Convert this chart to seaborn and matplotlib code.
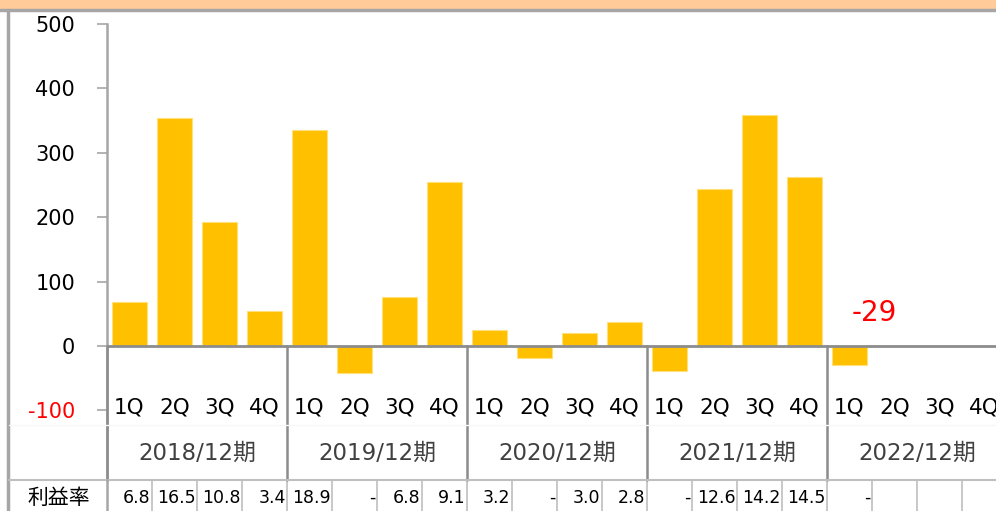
import matplotlib
matplotlib.use("Agg")
import matplotlib.pyplot as plt
from matplotlib.lines import Line2D
from matplotlib.patches import Rectangle
import pandas as pd
import seaborn as sns

sns.set_theme(style="white")
plt.rcParams['font.family'] = ['DejaVu Sans', 'Noto Sans CJK JP']

# data
years = ['2018/12期', '2019/12期', '2020/12期', '2021/12期', '2022/12期']
quarters = ['1Q', '2Q', '3Q', '4Q']
profit = [68, 354, 193, 54,
          335, -42, 76, 255,
          25, -18, 20, 37,
          -39, 244, 359, 262,
          -29]
margin = ['6.8', '16.5', '10.8', '3.4',
          '18.9', '-', '6.8', '9.1',
          '3.2', '-', '3.0', '2.8',
          '-', '12.6', '14.2', '14.5',
          '-', '', '', '']
yticks = [-100, 0, 100, 200, 300, 400, 500]
row_label = '利益率'

W, H = 996, 511
slots = [f'{y} {q}' for y in years for q in quarters]
df = pd.DataFrame({'slot': slots[:len(profit)], 'profit': profit})


def fx(px):
    return px / W


def fy(py):
    return 1 - py / H


fig = plt.figure(figsize=(W / 100, H / 100), dpi=100)
# plot area: x 107..996, y 24..480 (pixels from top)
ax = fig.add_axes([fx(107), fy(480), fx(W - 107), (480 - 24) / H])

sns.barplot(data=df, x='slot', y='profit', order=slots, color='#FFC000',
            saturation=1, width=0.78, edgecolor='#FFE07A', linewidth=0.8,
            errorbar=None, ax=ax)

slot_w = 45
ppu = (346 - 24) / 500  # pixels per unit
ax.set_xlim(-0.5, -0.5 + (W - 107) / slot_w)
y_bot = -(480 - 346) / ppu
ax.set_ylim(y_bot, 500)
ax.set_xlabel('')
ax.set_ylabel('')
ax.set_xticks([])
ax.set_yticks(yticks)
ax.set_yticklabels([str(v) for v in yticks], fontsize=15)
for lab, v in zip(ax.get_yticklabels(), yticks):
    lab.set_color('#FF0000' if v < 0 else '#000000')
ax.tick_params(axis='y', left=True, length=7, width=1.2, color='#a6a6a6',
               pad=16)
for s in ['top', 'right', 'bottom']:
    ax.spines[s].set_visible(False)
ax.spines['left'].set_color('#a6a6a6')
ax.spines['left'].set_linewidth(1.8)

# zero line
ax.axhline(0, color='#8c8c8c', lw=2, zorder=3)

# quarter and fiscal year labels with group dividers
y_q = -(408 - 346) / ppu
y_g = -(453 - 346) / ppu
for i, s in enumerate(slots):
    ax.text(i, y_q, s.split(' ')[1], ha='center', va='center', fontsize=15.5,
            color='#000000')
for g, y in enumerate(years):
    ax.text(g * 4 + 1.5, y_g, y, ha='center', va='center', fontsize=16.5,
            color='#404040')
    ax.plot([g * 4 - 0.5, g * 4 - 0.5], [0, y_bot], color='#8c8c8c',
            lw=1.8, zorder=3, clip_on=False)

# data label for the latest quarter
ax.text(16.55, (346 - 313) / ppu, str(profit[16]), ha='center',
        va='center', fontsize=20, color='#FF0000')

# margin row under the chart
y_row = -(498 - 346) / ppu
for i, m in enumerate(margin):
    ax.text(i + 0.47, y_row, m, ha='right', va='center', fontsize=12.5,
            color='#000000', clip_on=False)
    if i > 0:
        ax.plot([i - 0.5, i - 0.5], [y_bot, y_bot - 60], color='#bfbfbf',
                lw=1.2, clip_on=False)
fig.text(fx(59), fy(498), row_label, ha='center', va='center', fontsize=15,
         color='#000000')

# frame pieces around the chart
fig.patches.append(Rectangle((0, fy(9)), 1, 9 / H, transform=fig.transFigure,
                             facecolor='#FFCC99', edgecolor='none'))
fig.lines.append(Line2D([0, 1], [fy(10.5), fy(10.5)], transform=fig.transFigure,
                        color='#a6a6a6', lw=2.5))
fig.lines.append(Line2D([fx(8), fx(8)], [0, fy(10)], transform=fig.transFigure,
                        color='#a6a6a6', lw=2.5))
fig.lines.append(Line2D([fx(9), 1], [fy(480), fy(480)],
                        transform=fig.transFigure, color='#bfbfbf', lw=1.5))
fig.lines.append(Line2D([fx(9), 1], [fy(425), fy(425)],
                        transform=fig.transFigure, color='#f7f7f7', lw=1))
fig.lines.append(Line2D([fx(107), fx(107)], [0, fy(480)],
                        transform=fig.transFigure, color='#a6a6a6', lw=1.8))

fig.savefig('out.png', dpi=100)
